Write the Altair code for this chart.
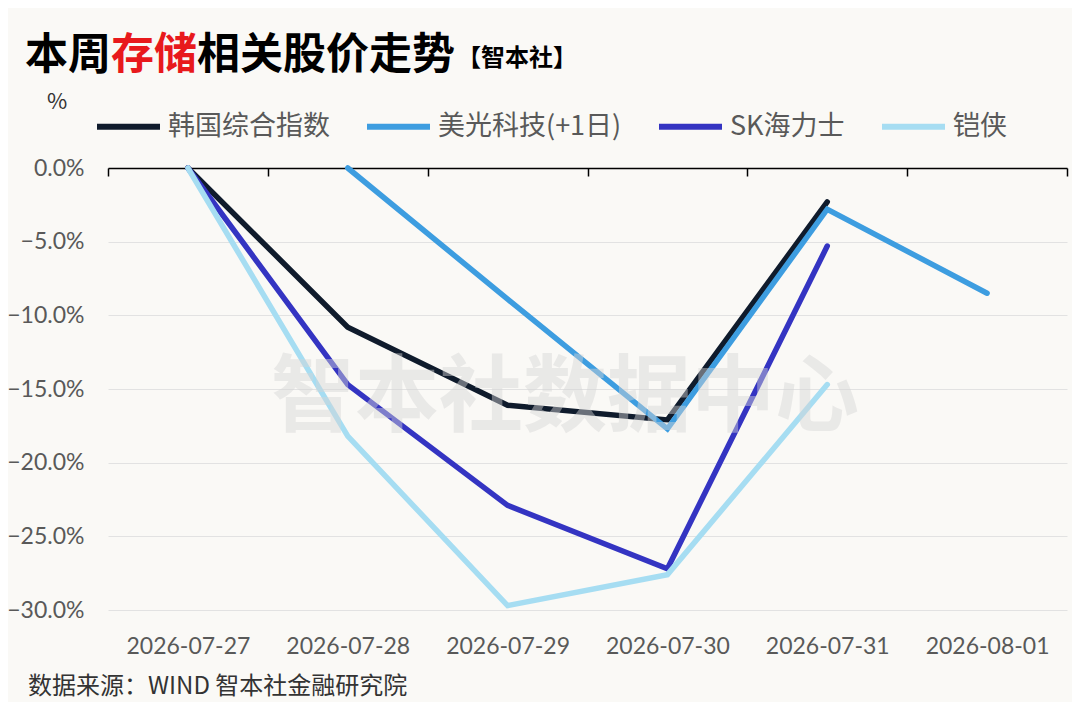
import altair as alt
import pandas as pd

dates = ["2026-07-27", "2026-07-28", "2026-07-29", "2026-07-30", "2026-07-31", "2026-08-01"]
series_names = ["韩国综合指数", "美光科技(+1日)", "SK海力士", "铠侠"]
korea = [0.0, -10.8, -16.1, -17.1, -2.3, None]
micron = [None, 0.0, -8.9, -17.7, -2.8, -8.5]
sk_hynix = [0.0, -14.7, -22.9, -27.2, -5.3, None]
kioxia = [0.0, -18.2, -29.7, -27.6, -14.7, None]
colors = ["#0f1b2c", "#3d9de0", "#3434c2", "#a6ddf2"]
y_ticks = [0, -5, -10, -15, -20, -25, -30]

rows = []
for name, vals in zip(series_names, [korea, micron, sk_hynix, kioxia]):
    for d, v in zip(dates, vals):
        if v is not None:
            rows.append({"date": d, "series": name, "value": v})
df = pd.DataFrame(rows)

W, H = 959, 442
CJK = "Noto Sans CJK SC"
NUM = "Lato"

x_enc = alt.X(
    "date:O",
    scale=alt.Scale(type="band", domain=dates, paddingInner=0, paddingOuter=0),
    bandPosition=0.5,
    axis=alt.Axis(
        title=None, orient="bottom", offset=-H, tickBand="extent",
        domainColor="#000000", domainWidth=1.5, tickColor="#000000", tickWidth=1.5,
        tickSize=8, labelPadding=459, labelFontSize=23, labelFont=NUM,
        labelColor="#595959", labelAngle=0, grid=False,
    ),
)
y_enc = alt.Y(
    "value:Q",
    scale=alt.Scale(domain=[-30, 0], nice=False, zero=False),
    axis=alt.Axis(
        title=None, values=y_ticks, domain=False, ticks=False, grid=True,
        gridColor="#e2e2e2", gridWidth=1, labelPadding=24, labelFontSize=23,
        labelFont=NUM, labelColor="#595959",
        labelExpr="format(datum.value, '.1f') + '%'",
    ),
)
color_enc = alt.Color(
    "series:N",
    scale=alt.Scale(domain=series_names, range=colors),
    legend=alt.Legend(
        orient="none", legendX=-14, legendY=-76, direction="horizontal", columns=4,
        title=None, symbolType="stroke", symbolSize=3969, symbolStrokeWidth=6,
        labelFontSize=27, labelFont=CJK, labelColor="#595959", columnPadding=25,
        labelOffset=5, labelLimit=400,
    ),
)

base = alt.Chart(df)
draw_order = ["韩国综合指数", "SK海力士", "铠侠", "美光科技(+1日)"]
line_layers = [
    base.transform_filter(alt.datum.series == s)
    .mark_line(strokeWidth=5.5, strokeCap="round", strokeJoin="miter")
    .encode(x=x_enc, y=y_enc, color=color_enc)
    for s in draw_order
]


def text_layer(txt, x, y, size, color, weight="normal", font=CJK, align="left", opacity=1.0):
    return alt.Chart(pd.DataFrame({"t": [txt]})).mark_text(
        align=align, baseline="middle", fontSize=size, font=font,
        fontWeight=weight, color=color, opacity=opacity,
    ).encode(x=alt.value(x), y=alt.value(y), text="t:N")


title_layers = [
    text_layer("本周", -83, -112, 43, "#000000", "bold"),
    text_layer("存储", 3, -112, 43, "#e8191c", "bold"),
    text_layer("相关股价走势", 89, -112, 43, "#000000", "bold"),
    text_layer("【智本社】", 349, -109, 24, "#000000", "bold"),
    text_layer("%", -61, -66, 22, "#333333"),
    text_layer("数据来源：WIND 智本社金融研究院", -80, 519, 24, "#333333"),
    text_layer("智本社数据中心", 457, 232, 84, "#d6d6d6", "bold", align="center", opacity=0.45),
]

chart = alt.layer(*line_layers, *title_layers).properties(
    width=W, height=H,
    autosize=alt.AutoSizeParams(type="none"),
    padding={"left": 100, "top": 160, "right": 5, "bottom": 92},
    background="#faf9f6",
).configure_view(stroke=None)

chart.save("out.html", embed_options={"renderer": "svg", "actions": False})
